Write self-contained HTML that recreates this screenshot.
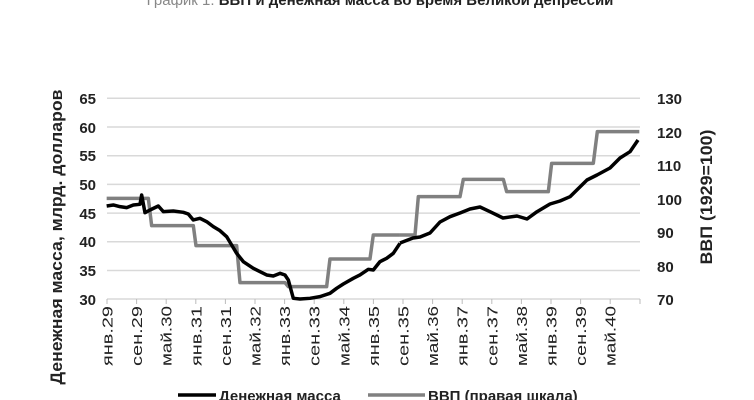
<!DOCTYPE html>
<html><head><meta charset="utf-8"><style>
html,body{margin:0;padding:0;background:#fff;}
svg{display:block;font-family:"Liberation Sans","DejaVu Sans",sans-serif;}
</style></head><body>
<svg width="754" height="400" viewBox="0 0 754 400" xmlns="http://www.w3.org/2000/svg">
<text x="380" y="5" text-anchor="middle" font-size="15" fill="#888">График 1. <tspan font-weight="bold" fill="#222">ВВП и денежная масса во время Великой депрессии</tspan></text>
<g stroke="#d9d9d9" stroke-width="1.5">
<line x1="107" y1="98.3" x2="640" y2="98.3"/>
<line x1="107" y1="127" x2="640" y2="127"/>
<line x1="107" y1="155.7" x2="640" y2="155.7"/>
<line x1="107" y1="184.4" x2="640" y2="184.4"/>
<line x1="107" y1="213.1" x2="640" y2="213.1"/>
<line x1="107" y1="241.8" x2="640" y2="241.8"/>
<line x1="107" y1="270.5" x2="640" y2="270.5"/>
<line x1="107" y1="299" x2="640" y2="299"/>
</g>
<g stroke="#bbb" stroke-width="1">
<line x1="107" y1="299" x2="107" y2="304"/><line x1="136.6" y1="299" x2="136.6" y2="304"/><line x1="166.2" y1="299" x2="166.2" y2="304"/><line x1="195.8" y1="299" x2="195.8" y2="304"/><line x1="225.4" y1="299" x2="225.4" y2="304"/><line x1="255" y1="299" x2="255" y2="304"/><line x1="284.6" y1="299" x2="284.6" y2="304"/><line x1="314.2" y1="299" x2="314.2" y2="304"/><line x1="343.8" y1="299" x2="343.8" y2="304"/><line x1="373.4" y1="299" x2="373.4" y2="304"/><line x1="403" y1="299" x2="403" y2="304"/><line x1="432.6" y1="299" x2="432.6" y2="304"/><line x1="462.2" y1="299" x2="462.2" y2="304"/><line x1="491.8" y1="299" x2="491.8" y2="304"/><line x1="521.4" y1="299" x2="521.4" y2="304"/><line x1="551" y1="299" x2="551" y2="304"/><line x1="580.6" y1="299" x2="580.6" y2="304"/><line x1="610.2" y1="299" x2="610.2" y2="304"/><line x1="640" y1="299" x2="640" y2="304"/>
</g>
<g font-size="15" font-weight="bold" fill="#222" text-anchor="end">
<text x="96" y="104">65</text><text x="96" y="133">60</text><text x="96" y="161">55</text><text x="96" y="190">50</text><text x="96" y="219">45</text><text x="96" y="247">40</text><text x="96" y="276">35</text><text x="96" y="305">30</text>
</g>
<g font-size="15" font-weight="bold" fill="#222">
<text x="657" y="104">130</text><text x="657" y="138">120</text><text x="657" y="171">110</text><text x="657" y="205">100</text><text x="657" y="238">90</text><text x="657" y="272">80</text><text x="657" y="305">70</text>
</g>
<text transform="translate(62,237) rotate(-90)" text-anchor="middle" font-size="17" font-weight="bold" fill="#222" textLength="295" lengthAdjust="spacingAndGlyphs">Денежная масса, млрд. долларов</text>
<text transform="translate(712,197) rotate(-90)" text-anchor="middle" font-size="17" font-weight="bold" fill="#222" textLength="135" lengthAdjust="spacingAndGlyphs">ВВП (1929=100)</text>
<g font-size="15" fill="#222" text-anchor="end">
<text transform="translate(112.5,306) rotate(-90)" textLength="60" lengthAdjust="spacingAndGlyphs">янв.29</text>
<text transform="translate(142.1,306) rotate(-90)" textLength="60" lengthAdjust="spacingAndGlyphs">сен.29</text>
<text transform="translate(171.7,306) rotate(-90)" textLength="60" lengthAdjust="spacingAndGlyphs">май.30</text>
<text transform="translate(201.3,306) rotate(-90)" textLength="60" lengthAdjust="spacingAndGlyphs">янв.31</text>
<text transform="translate(230.9,306) rotate(-90)" textLength="60" lengthAdjust="spacingAndGlyphs">сен.31</text>
<text transform="translate(260.5,306) rotate(-90)" textLength="60" lengthAdjust="spacingAndGlyphs">май.32</text>
<text transform="translate(290.1,306) rotate(-90)" textLength="60" lengthAdjust="spacingAndGlyphs">янв.33</text>
<text transform="translate(319.7,306) rotate(-90)" textLength="60" lengthAdjust="spacingAndGlyphs">сен.33</text>
<text transform="translate(349.3,306) rotate(-90)" textLength="60" lengthAdjust="spacingAndGlyphs">май.34</text>
<text transform="translate(378.9,306) rotate(-90)" textLength="60" lengthAdjust="spacingAndGlyphs">янв.35</text>
<text transform="translate(408.5,306) rotate(-90)" textLength="60" lengthAdjust="spacingAndGlyphs">сен.35</text>
<text transform="translate(438.1,306) rotate(-90)" textLength="60" lengthAdjust="spacingAndGlyphs">май.36</text>
<text transform="translate(467.7,306) rotate(-90)" textLength="60" lengthAdjust="spacingAndGlyphs">янв.37</text>
<text transform="translate(497.3,306) rotate(-90)" textLength="60" lengthAdjust="spacingAndGlyphs">сен.37</text>
<text transform="translate(526.9,306) rotate(-90)" textLength="60" lengthAdjust="spacingAndGlyphs">май.38</text>
<text transform="translate(556.5,306) rotate(-90)" textLength="60" lengthAdjust="spacingAndGlyphs">янв.39</text>
<text transform="translate(586.1,306) rotate(-90)" textLength="60" lengthAdjust="spacingAndGlyphs">сен.39</text>
<text transform="translate(615.7,306) rotate(-90)" textLength="60" lengthAdjust="spacingAndGlyphs">май.40</text>
</g>
<g fill="none" stroke="#808080" stroke-width="3.5" stroke-linejoin="round">
<polyline vector-effect="non-scaling-stroke" transform="translate(40,80) scale(0.3333)" points="200,355 325,355 335,437 460,437 468,497 590,497 600,608 735,608 745,620 860,620 870,537 990,537 1000,465 1080,465"/>
<polyline vector-effect="non-scaling-stroke" transform="translate(390,80) scale(0.3333)" points="30,465 75,465 85,350 210,350 220,298 340,298 350,335 475,335 485,250 610,250 622,155 748,155"/>
</g>
<g fill="none" stroke="#000" stroke-width="3.5" stroke-linejoin="round">
<polyline vector-effect="non-scaling-stroke" transform="translate(40,80) scale(0.3333)" points="200,378 220,375 240,380 260,383 280,375 300,373 305,345 315,398 330,390 355,378 370,395 400,393 430,397 445,402 460,420 480,415 500,425 520,440 540,452 560,470 575,495 590,520 610,545 640,565 680,585 700,588 720,580 735,585 745,600 760,655 780,657 810,655 840,650 870,640 890,625 910,612 940,595 960,585 985,568 1000,570 1020,545 1040,535 1060,520 1080,490"/>
<polyline vector-effect="non-scaling-stroke" points="400,243 413,238 420,237 430,233 440,222 450,216.7 460,213 470,209 480,207 490,211.7 503,218 517,216 527,219 537,211.7 550,204 560,201 570,196.7 587,180 597,175 610,168 620,158 630,151.7 638,140"/>
</g>
<line x1="178" y1="395" x2="216" y2="395" stroke="#000" stroke-width="3.5"/>
<text x="219" y="401" font-size="15" font-weight="bold" fill="#222">Денежная масса</text>
<line x1="368" y1="395" x2="425" y2="395" stroke="#808080" stroke-width="3.5"/>
<text x="428" y="401" font-size="15" font-weight="bold" fill="#222">ВВП (правая шкала)</text>
</svg>
</body></html>
